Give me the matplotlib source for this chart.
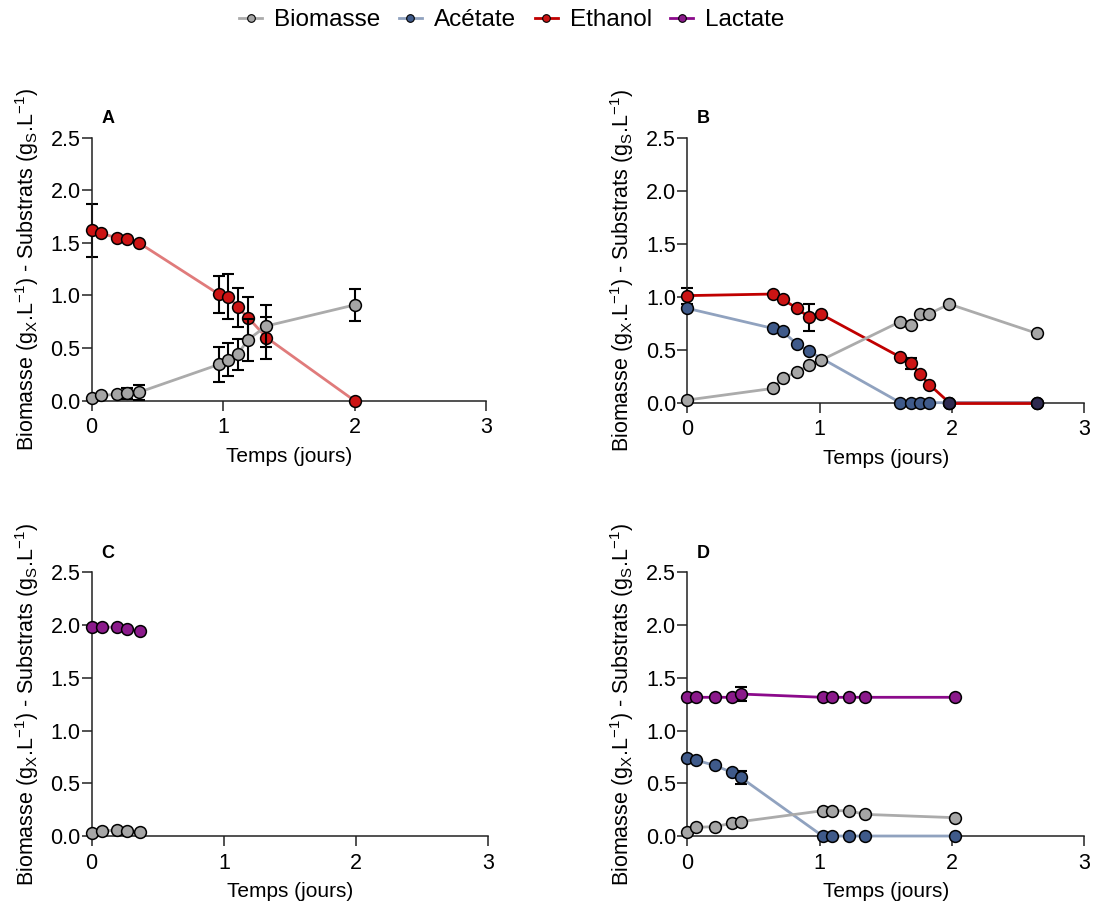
import matplotlib
matplotlib.use("Agg")
import matplotlib.pyplot as plt
from matplotlib.lines import Line2D

plt.rcParams['font.family'] = ['Liberation Sans', 'DejaVu Sans']

# ---- data (temps en jours, concentrations en g/L) ----
a_t = [0, 0.07, 0.19, 0.27, 0.36, 0.97, 1.04, 1.11, 1.19, 1.33, 2.0]
a_biomasse = [0.03, 0.05, 0.06, 0.07, 0.08, 0.345, 0.39, 0.44, 0.58, 0.71, 0.91]
a_biomasse_err = [0, 0, 0, 0.05, 0.07, 0.165, 0.155, 0.145, 0.2, 0.2, 0.15]
a_ethanol = [1.62, 1.59, 1.55, 1.54, 1.50, 1.01, 0.99, 0.89, 0.79, 0.60, 0.0]
a_ethanol_err = [0.25, 0, 0, 0, 0, 0.175, 0.21, 0.185, 0.2, 0.2, 0]

b_t = [0, 0.65, 0.72, 0.83, 0.92, 1.01, 1.61, 1.69, 1.76, 1.83, 1.98, 2.64]
b_biomasse = [0.025, 0.135, 0.23, 0.29, 0.355, 0.40, 0.765, 0.73, 0.84, 0.84, 0.93, 0.655]
b_ethanol = [1.01, 1.025, 0.975, 0.89, 0.805, 0.835, 0.43, 0.37, 0.27, 0.17, 0.0, 0.0]
b_ethanol_err = [0.075, 0, 0, 0, 0.125, 0, 0, 0.055, 0, 0, 0, 0]
b_acetate_t = [0, 0.65, 0.72, 0.83, 0.92, 1.61, 1.69, 1.76, 1.83, 1.98, 2.64]
b_acetate = [0.89, 0.70, 0.675, 0.55, 0.485, 0, 0, 0, 0, 0, 0]
b_lactate_t = [1.98, 2.64]
b_lactate = [0, 0]

c_t = [0, 0.08, 0.19, 0.27, 0.365]
c_biomasse = [0.025, 0.047, 0.057, 0.047, 0.041]
c_lactate = [1.985, 1.98, 1.98, 1.96, 1.945]

d_t = [0, 0.063, 0.207, 0.335, 0.403, 1.023, 1.093, 1.22, 1.345, 2.02]
d_biomasse = [0.041, 0.082, 0.089, 0.12, 0.136, 0.24, 0.24, 0.24, 0.205, 0.174]
d_acetate = [0.743, 0.72, 0.67, 0.604, 0.556, 0, 0, 0, 0, 0]
d_acetate_err = [0, 0, 0, 0, 0.063, 0, 0, 0, 0, 0]
d_lactate = [1.315, 1.315, 1.315, 1.315, 1.346, 1.315, 1.315, 1.315, 1.315, 1.315]
d_lactate_err = [0, 0, 0, 0, 0.063, 0, 0, 0, 0, 0]

# colours
c_bio, c_bio_line = '#A6A6A6', '#ABABAB'
c_ace, c_ace_line = '#3F5A8A', '#90A2BF'
c_eth = '#CC1414'
c_lac = '#8B1A8B'


def serie(ax, x, y, face, line, err=None, z=3):
    if err is not None:
        ax.errorbar(x, y, yerr=err, fmt='none', ecolor='black', elinewidth=1.5,
                    capsize=4, capthick=1.5, zorder=z - 0.5, clip_on=False)
    ax.plot(x, y, '-', color=line, lw=2, marker='o', ms=8.5, mfc=face,
            mec='black', mew=1.1, zorder=z, clip_on=False)


fig = plt.figure(figsize=(10.94, 9.10), dpi=100)
pos = {'A': [0.0838, 0.5597, 0.3604, 0.289],
       'B': [0.6282, 0.5575, 0.3629, 0.2912],
       'C': [0.0838, 0.0813, 0.3625, 0.2898],
       'D': [0.6282, 0.0813, 0.3629, 0.2898]}
axes = {}
for k, p in pos.items():
    ax = fig.add_axes(p)
    ax.set_xlim(0, 3)
    ax.set_ylim(0, 2.5)
    ax.set_xticks([0, 1, 2, 3])
    ax.set_yticks([0, 0.5, 1.0, 1.5, 2.0, 2.5])
    ax.set_yticklabels(['0.0', '0.5', '1.0', '1.5', '2.0', '2.5'])
    for s in ['top', 'right']:
        ax.spines[s].set_visible(False)
    for s in ['left', 'bottom']:
        ax.spines[s].set_linewidth(1.1)
        ax.spines[s].set_color('#222222')
    ax.tick_params(axis='both', direction='out', length=7, width=1.1,
                   color='#222222', labelsize=15.5)
    ax.tick_params(axis='y', pad=1)
    ax.tick_params(axis='x', pad=5)
    ax.set_xlabel('Temps (jours)', fontsize=15, labelpad=6)
    ax.set_ylabel(r'Biomasse (g$_\mathregular{X}$.L$^\mathregular{-1}$) - Substrats (g$_\mathregular{S}$.L$^\mathregular{-1}$)',
                  fontsize=15.5)
    ax.yaxis.set_label_coords(-0.128, 0.5)
    ax.text(0.025, 1.04, k, transform=ax.transAxes, fontsize=13,
            fontweight='bold', ha='left', va='bottom')
    axes[k] = ax

ax = axes['A']
serie(ax, a_t, a_ethanol, c_eth, '#E07B7B', a_ethanol_err, z=3)
serie(ax, a_t, a_biomasse, c_bio, c_bio_line, a_biomasse_err, z=4)

ax = axes['B']
serie(ax, b_t, b_ethanol, c_eth, '#C00000', b_ethanol_err, z=3)
serie(ax, b_acetate_t, b_acetate, c_ace, c_ace_line, z=4)
serie(ax, b_lactate_t, b_lactate, '#2E2A50', '#C00000', z=4.5)
serie(ax, b_t, b_biomasse, c_bio, c_bio_line, z=5)

ax = axes['C']
serie(ax, c_t, c_lactate, c_lac, '#C48AC4', z=3)
serie(ax, c_t, c_biomasse, c_bio, c_bio_line, z=4)

ax = axes['D']
serie(ax, d_t, d_lactate, c_lac, '#8B0A8B', d_lactate_err, z=3)
serie(ax, d_t, d_acetate, c_ace, c_ace_line, d_acetate_err, z=4)
serie(ax, d_t, d_biomasse, c_bio, c_bio_line, z=5)

noms = ['Biomasse', 'Acétate', 'Ethanol', 'Lactate']
faces = [c_bio, c_ace, c_eth, c_lac]
lignes = [c_bio_line, c_ace_line, '#C00000', '#8B0A8B']
handles = [Line2D([], [], color=l, lw=2, marker='o', ms=5.5, mfc=f, mec='black', mew=0.8)
           for f, l in zip(faces, lignes)]
fig.legend(handles, noms, loc='center', bbox_to_anchor=(0.468, 0.978), ncol=4,
           frameon=False, fontsize=17.5,
           handlelength=0.95, handletextpad=0.5, columnspacing=0.75)

fig.savefig('out.png', dpi=100)
